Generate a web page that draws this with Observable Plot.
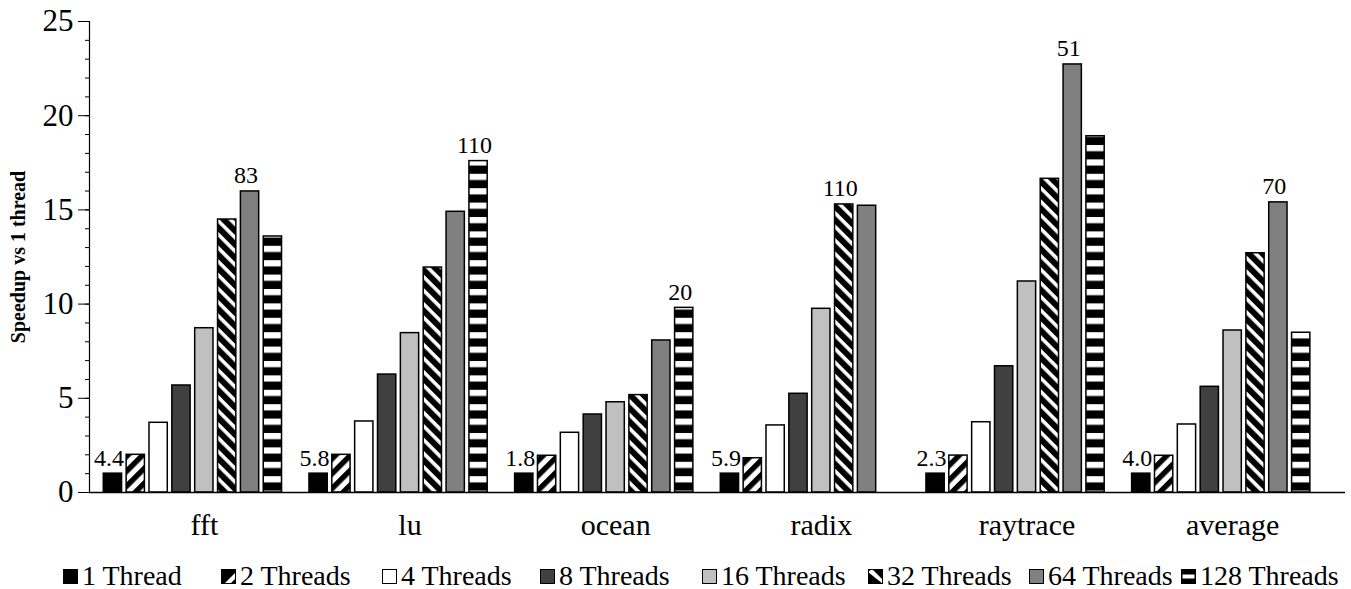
<!DOCTYPE html>
<html><head><meta charset="utf-8">
<script src="https://cdn.jsdelivr.net/npm/d3@7"></script>
<script src="https://cdn.jsdelivr.net/npm/@observablehq/plot@0.6"></script>
<style>
html,body{margin:0;padding:0;background:#fff;}
#wrap{width:1351px;font-family:"Liberation Serif",Tinos,"Times New Roman",Times,"DejaVu Serif",serif;}
#legend{position:relative;height:41px;width:1351px;}
.item{position:absolute;top:14px;height:28px;display:flex;align-items:center;font-size:28px;line-height:28px;white-space:nowrap;color:#000;}
.item svg{margin-right:4px;flex:none;}
</style></head><body>
<svg width="0" height="0" style="position:absolute">
 <defs>
  <pattern id="p2" patternUnits="userSpaceOnUse" width="10.5" height="10.5" patternTransform="rotate(45)">
   <rect width="10.5" height="10.5" fill="white"/><rect width="5.4" height="10.5" fill="black"/>
  </pattern>
  <pattern id="p32" patternUnits="userSpaceOnUse" width="9.6" height="9.6" patternTransform="rotate(-45)">
   <rect width="9.6" height="9.6" fill="black"/><rect x="6" width="3.6" height="9.6" fill="white"/>
  </pattern>
  <pattern id="p128" patternUnits="userSpaceOnUse" width="20" height="14.4">
   <rect width="20" height="14.4" fill="black"/><rect y="1" width="20" height="6.2" fill="white"/>
  </pattern>
 </defs>
</svg>
<div id="wrap"><div id="chart"></div><div id="legend"></div></div>
<script>
const groups = ["fft", "lu", "ocean", "radix", "raytrace", "average"];
const threads = ["1 Thread", "2 Threads", "4 Threads", "8 Threads", "16 Threads", "32 Threads", "64 Threads", "128 Threads"];
// speedup values per thread count, one per group
const t1   = [1.0, 1.0, 1.0, 1.0, 1.0, 1.0];
const t2   = [2.0, 2.0, 1.95, 1.82, 1.96, 1.95];
const t4   = [3.70, 3.77, 3.17, 3.56, 3.73, 3.61];
const t8   = [5.68, 6.26, 4.14, 5.24, 6.70, 5.61];
const t16  = [8.72, 8.46, 4.79, 9.75, 11.2, 8.60];
const t32  = [14.49, 11.94, 5.17, 15.29, 16.65, 12.70];
const t64  = [15.98, 14.90, 8.07, 15.22, 22.72, 15.4];
const t128 = [13.59, 17.59, 9.80, 0, 18.91, 8.48];
const series = [t1, t2, t4, t8, t16, t32, t64, t128];
// annotations
const lowLabels = ["4.4", "5.8", "1.8", "5.9", "2.3", "4.0"];
const highThreads = ["64 Threads", "128 Threads", "128 Threads", "32 Threads", "64 Threads", "64 Threads"];
const highLabels = ["83", "110", "20", "110", "51", "70"];
const yMajorTicks = [0, 5, 10, 15, 20, 25];
const yMinorTicks = d3.range(0, 26, 1);
const yLabel = "Speedup vs 1 thread";

const fills = ["black", "url(#p2)", "white", "#404040", "#c0c0c0", "url(#p32)", "#808080", "url(#p128)"];
const FONT = '"Liberation Serif", Tinos, "Times New Roman", Times, "DejaVu Serif", serif';

const key = (g, t) => g + "|" + t;
const rows = groups.flatMap((g, i) => threads.map((t, j) => ({group: g, thread: t, key: key(g, t), value: series[j][i]})));
const valueOf = (g, t) => rows.find(r => r.group === g && r.thread === t).value;
const labels = groups.flatMap((g, i) => [
  {key: key(g, threads[0]), value: valueOf(g, threads[0]), text: lowLabels[i]},
  {key: key(g, highThreads[i]), value: valueOf(g, highThreads[i]), text: highLabels[i]}
]);
const xDomain = groups.flatMap(g => [...threads.map(t => key(g, t)), key(g, "gap")]);

const chart = Plot.plot({
  width: 1351,
  height: 548,
  marginLeft: 89,
  marginRight: 6,
  marginTop: 21,
  marginBottom: 56,
  style: {fontFamily: FONT, color: "black", background: "white", overflow: "visible"},
  x: {domain: xDomain, paddingInner: 0.2, paddingOuter: 0.1, insetLeft: 12, insetRight: 10, axis: null, label: null},
  y: {domain: [0, 25], axis: null, label: null},
  marks: [
    Plot.axisY({ticks: yMinorTicks, tickSize: 4, tickFormat: () => "", stroke: "black"}),
    Plot.axisY({ticks: yMajorTicks, tickSize: 11, tickPadding: 5, fontSize: 31, stroke: "black", fill: "black", fontFamily: FONT}),
    ...threads.map((t, j) => Plot.barY(rows.filter(r => r.thread === t), {x: "key", y: "value", fill: fills[j], stroke: "black", strokeWidth: 1.5})),
    Plot.ruleY([0], {stroke: "black", strokeWidth: 1.5}),
    Plot.frame({anchor: "left", stroke: "black", strokeWidth: 1.2}),
    Plot.text(labels, {x: "key", y: "value", text: "text", dx: -4, dy: -8, lineAnchor: "bottom", fontSize: 24, fill: "black", fontFamily: FONT}),
    Plot.axisX({ticks: groups.map(g => key(g, "16 Threads")), tickFormat: k => k.split("|")[0], tickSize: 0, tickPadding: 21, fontSize: 30, fill: "black", fontFamily: FONT}),
    Plot.text([yLabel], {frameAnchor: "left", textAnchor: "middle", rotate: -90, dx: -71, fontWeight: "bold", fontSize: 20, fill: "black", fontFamily: FONT})
  ]
});
document.getElementById("chart").appendChild(chart);

// legend
const legendX = [63, 221, 382, 540, 702, 868, 1029, 1181];
const swatch = j => {
  const s = 15;
  let inner = "";
  if (j === 1) inner = `<rect width="${s}" height="${s}" fill="black"/><polygon points="3,${s} ${s},3 ${s},9 9,${s}" fill="white"/>`;
  else if (j === 5) inner = `<rect width="${s}" height="${s}" fill="black"/><polygon points="4,0 ${s},11 ${s},${s} 0,3" fill="white"/>`;
  else if (j === 7) inner = `<rect width="${s}" height="${s}" fill="black"/><rect x="1.5" y="5.5" width="${s-3}" height="4" fill="white"/>`;
  else inner = `<rect width="${s}" height="${s}" fill="${fills[j]}"/>`;
  return `<svg width="${s}" height="${s}" style="overflow:visible">${inner}<rect x="0.5" y="0.5" width="${s-1}" height="${s-1}" fill="none" stroke="black" stroke-width="1"/></svg>`;
};
const legend = document.getElementById("legend");
threads.forEach((t, j) => {
  const d = document.createElement("div");
  d.className = "item";
  d.style.left = legendX[j] + "px";
  d.innerHTML = swatch(j) + `<span>${t}</span>`;
  legend.appendChild(d);
});
</script>
</body></html>
